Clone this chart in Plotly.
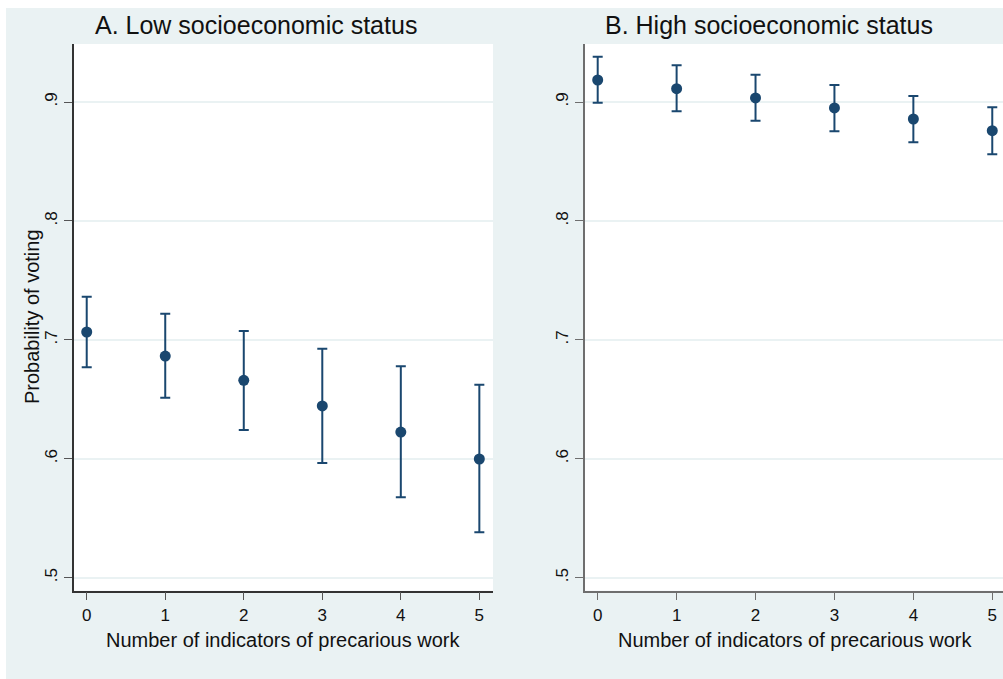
import plotly.graph_objects as go

# ---- data ----
indicators = [0, 1, 2, 3, 4, 5]

low_prob = [0.7066, 0.6864, 0.6660, 0.6444, 0.6225, 0.5998]
low_upper = [0.7363, 0.7220, 0.7075, 0.6926, 0.6778, 0.6623]
low_lower = [0.6769, 0.6514, 0.6242, 0.5965, 0.5676, 0.5382]

high_prob = [0.9185, 0.9112, 0.9034, 0.8950, 0.8857, 0.8759]
high_upper = [0.9381, 0.9308, 0.9229, 0.9143, 0.9050, 0.8956]
high_lower = [0.8994, 0.8922, 0.8843, 0.8754, 0.8662, 0.8560]

y_tickvals = [0.5, 0.6, 0.7, 0.8, 0.9]
y_ticktext = [".5", ".6", ".7", ".8", ".9"]
x_tickvals = [0, 1, 2, 3, 4, 5]

panel_titles = ["A. Low socioeconomic status", "B. High socioeconomic status"]
x_title = "Number of indicators of precarious work"
y_title = "Probability of voting"

# ---- style ----
W, H = 1003, 679
BG = "#EAF2F3"
NAVY = "#1a476f"
FONT = "Liberation Sans, Arial, sans-serif"


def px_x(p):
    return p / W


def px_y(p):
    return 1 - p / H


fig = go.Figure()


def add_panel(prob, upper, lower, xa, ya):
    fig.add_trace(go.Scatter(
        x=indicators, y=prob, mode="markers",
        marker=dict(color=NAVY, size=11, symbol="circle"),
        error_y=dict(type="data", symmetric=False,
                     array=[u - p for u, p in zip(upper, prob)],
                     arrayminus=[p - l for p, l in zip(prob, lower)],
                     color=NAVY, thickness=2, width=5),
        xaxis=xa, yaxis=ya, showlegend=False, hoverinfo="skip",
    ))


add_panel(low_prob, low_upper, low_lower, "x", "y")
add_panel(high_prob, high_upper, high_lower, "x2", "y2")

y_domain = [px_y(590.7), px_y(44)]
y_range = [0.48907, 0.94877]

common_x = dict(tickvals=x_tickvals, ticks="outside", ticklen=8, tickwidth=1,
                showgrid=False, zeroline=False, showline=True, linewidth=1.5,
                tickfont=dict(family=FONT, size=17, color="#111"))
common_y = dict(tickvals=y_tickvals, ticktext=y_ticktext, ticks="outside",
                ticklen=8, tickwidth=1, tickangle=-90, showgrid=True,
                gridcolor=BG, gridwidth=1.5, zeroline=False, showline=True,
                linewidth=1.5, range=y_range, domain=y_domain,
                tickfont=dict(family=FONT, size=17, color="#111"))

fig.update_layout(
    width=W, height=H,
    margin=dict(l=0, r=0, t=0, b=0),
    paper_bgcolor=BG, plot_bgcolor="white",
    xaxis=dict(domain=[px_x(74), px_x(493)], range=[-0.162, 5.174], anchor="y",
               linecolor="#333", tickcolor="#555", **common_x),
    yaxis=dict(anchor="x", linecolor="#333", tickcolor="#555", **common_y),
    xaxis2=dict(domain=[px_x(585), 1.0], range=[-0.161, 5.136], anchor="y2",
                linecolor="#6e6e6e", tickcolor="#6e6e6e", **common_x),
    yaxis2=dict(anchor="x2", linecolor="#6e6e6e", tickcolor="#6e6e6e", **common_y),
    shapes=[
        dict(type="rect", xref="paper", yref="paper", x0=0, x1=px_x(6), y0=0, y1=1,
             fillcolor="white", line=dict(width=0), layer="above"),
        dict(type="rect", xref="paper", yref="paper", x0=0, x1=1, y0=px_y(8), y1=1,
             fillcolor="white", line=dict(width=0), layer="above"),
    ],
    annotations=[
        dict(text=panel_titles[0], x=px_x(256), y=px_y(25), xref="paper", yref="paper",
             showarrow=False, xanchor="center", yanchor="middle",
             font=dict(family=FONT, size=25, color="#111")),
        dict(text=panel_titles[1], x=px_x(769), y=px_y(25), xref="paper", yref="paper",
             showarrow=False, xanchor="center", yanchor="middle",
             font=dict(family=FONT, size=25, color="#111")),
        dict(text=x_title, x=px_x(283), y=px_y(640), xref="paper", yref="paper",
             showarrow=False, xanchor="center", yanchor="middle",
             font=dict(family=FONT, size=20, color="#111")),
        dict(text=x_title, x=px_x(795), y=px_y(640), xref="paper", yref="paper",
             showarrow=False, xanchor="center", yanchor="middle",
             font=dict(family=FONT, size=20, color="#111")),
        dict(text=y_title, x=px_x(32), y=px_y(317), xref="paper", yref="paper",
             showarrow=False, xanchor="center", yanchor="middle", textangle=-90,
             font=dict(family=FONT, size=20, color="#111")),
    ],
)

fig.write_html("out.html")
